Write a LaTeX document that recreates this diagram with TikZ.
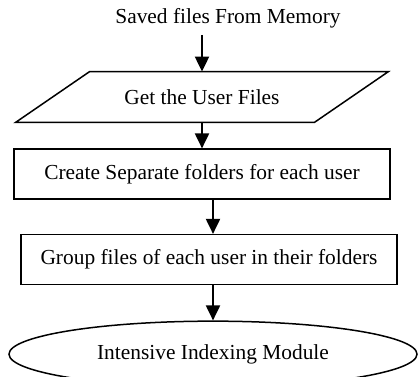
\documentclass[tikz,border=0pt]{standalone}
\usepackage{fontspec}
\setmainfont{Liberation Serif}
\usetikzlibrary{shapes.geometric,arrows.meta,positioning}
\tikzset{
  box/.style={draw,line width=0.75pt,minimum width=188pt,minimum height=25pt,inner sep=0pt},
  io/.style={minimum width=186pt,minimum height=25pt,inner sep=0pt},
  term/.style={draw,line width=0.75pt,ellipse,minimum width=204pt,minimum height=33pt,inner sep=0pt},
  flow/.style={line width=1pt,-{Triangle[length=7.5pt,width=7pt]}}
}

\begin{document}
\begin{tikzpicture}[font=\fontsize{10.7}{12}\selectfont]
                   \clip (0,0) rectangle (209pt,-188pt);
                   \node (src) at (114pt,-9pt) {Saved files From Memory};
                   \node[io] (get) at (101pt,-48.5pt) {Get the User Files};
                   \draw[line width=0.75pt] ([xshift=37pt]get.north west) -- (get.north east)
                         -- ([xshift=-37pt]get.south east) -- (get.south west) -- cycle;
                   \node[box] (create) [below=13pt of get] {Create Separate folders for each user};
                   \node[box] (group) [below=17pt of create, xshift=3.5pt] {Group files of each user in their folders};
                   \node[term] (ell) [below=17.5pt of group, xshift=2pt] {Intensive Indexing Module};
                    \path[flow]
                    (src.south -| get.north) edge (get.north)
                    (get.south) edge (get.south |- create.north)
                    (create.south -| ell.north) edge (group.north -| ell.north)
                    (group.south -| ell.north) edge (ell.north);
                \end{tikzpicture}
\end{document}
